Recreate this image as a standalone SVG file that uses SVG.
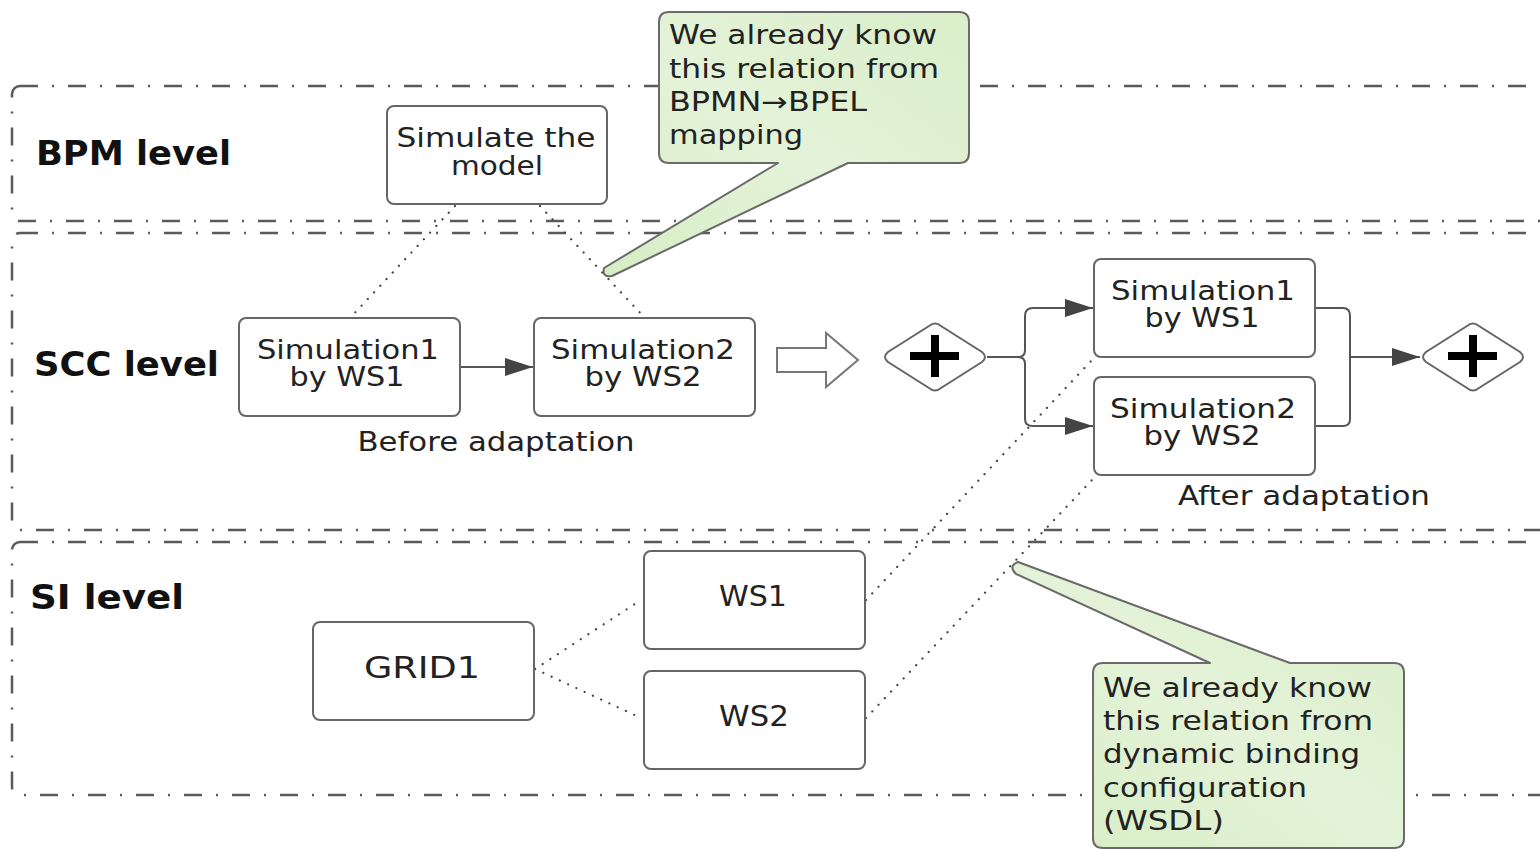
<svg xmlns="http://www.w3.org/2000/svg" width="1540" height="850" viewBox="0 0 1540 850">
  <style>
    .lane { fill: none; stroke: #5a5a5a; stroke-width: 2.5; stroke-dasharray: 18 14 2 14; }
    .box { fill: #fff; stroke: #666; stroke-width: 2; }
    .lbl { font-family: "DejaVu Sans", Verdana, sans-serif; font-size: 26px; fill: #222; text-anchor: middle; }
    .big { font-size: 28px; }
    .lane-lbl { font-family: "DejaVu Sans", Verdana, sans-serif; font-size: 33px; font-weight: bold; fill: #111; }
    .note-txt { font-family: "DejaVu Sans", Verdana, sans-serif; font-size: 27px; fill: #222; }
    .flow { fill: none; stroke: #555; stroke-width: 2; }
    .assoc { fill: none; stroke: #444; stroke-width: 2.2; stroke-dasharray: 0.1 9; stroke-linecap: round; }
    .gw { fill: #fff; stroke: #666; stroke-width: 2; }
    .plus { stroke: #000; stroke-width: 8; }
    .note { stroke: #6a6a6a; stroke-width: 2; fill: url(#noteFill); stroke-linejoin: round; }
  </style>
  <defs>
    <marker id="head" viewBox="0 0 28 20" refX="28" refY="10" markerWidth="28" markerHeight="20" markerUnits="userSpaceOnUse" orient="auto">
      <path d="M0,1 L28,10 L0,19 Z" fill="#444"/>
    </marker>
    <linearGradient id="noteFill" x1="0" y1="1" x2="1" y2="0">
      <stop offset="0" stop-color="#d6edc4"/>
      <stop offset="0.5" stop-color="#e4f3d8"/>
      <stop offset="1" stop-color="#d9eec9"/>
    </linearGradient>
  </defs>

  <rect width="1540" height="850" fill="#fff"/>

  <!-- swimlanes -->
  <g id="lanes">
    <rect class="lane" x="12" y="86" width="1560" height="135" rx="8"/>
    <rect class="lane" x="12" y="233" width="1560" height="297" rx="8"/>
    <rect class="lane" x="12" y="542" width="1560" height="253" rx="8"/>
    <text class="lane-lbl" x="36" y="165" textLength="195" lengthAdjust="spacingAndGlyphs">BPM level</text>
    <text class="lane-lbl" x="34" y="376" textLength="185" lengthAdjust="spacingAndGlyphs">SCC level</text>
    <text class="lane-lbl" x="30" y="609" textLength="154" lengthAdjust="spacingAndGlyphs">SI level</text>
  </g>

  <!-- connectors -->
  <g id="connectors">
    <!-- sequence flows -->
    <line class="flow" x1="460" y1="367" x2="533" y2="367" marker-end="url(#head)"/>
    <path class="flow" d="M987,357 H1018 Q1025,357 1025,350 V316 Q1025,308 1033,308 H1093" marker-end="url(#head)"/>
    <path class="flow" d="M1018,357 Q1025,357 1025,364 V419 Q1025,426 1033,426 H1093" marker-end="url(#head)"/>
    <path class="flow" d="M1315,308 H1343 Q1350,308 1350,316 V419 Q1350,426 1343,426 H1315"/>
    <line class="flow" x1="1350" y1="357" x2="1420" y2="357" marker-end="url(#head)"/>
    <!-- associations -->
    <line class="assoc" x1="455" y1="206" x2="350" y2="318"/>
    <line class="assoc" x1="540" y1="206" x2="645" y2="318"/>
    <line class="assoc" x1="535" y1="669" x2="641" y2="600"/>
    <line class="assoc" x1="535" y1="669" x2="641" y2="718"/>
    <line class="assoc" x1="866" y1="600" x2="1092" y2="360"/>
    <line class="assoc" x1="866" y1="718" x2="1092" y2="480"/>
  </g>

  <!-- BPM level -->
  <g id="simulate-model">
    <rect class="box" x="387" y="106" width="220" height="98" rx="7"/>
    <text class="lbl" x="496" y="147" textLength="199" lengthAdjust="spacingAndGlyphs">Simulate the</text>
    <text class="lbl" x="497" y="175" textLength="92" lengthAdjust="spacingAndGlyphs">model</text>
  </g>

  <!-- SCC level, before adaptation -->
  <g id="sim1-before">
    <rect class="box" x="239" y="318" width="221" height="98" rx="7"/>
    <text class="lbl" x="348" y="359" textLength="182" lengthAdjust="spacingAndGlyphs">Simulation1</text>
    <text class="lbl" x="347" y="386" textLength="115" lengthAdjust="spacingAndGlyphs">by WS1</text>
  </g>
  <g id="sim2-before">
    <rect class="box" x="534" y="318" width="221" height="98" rx="7"/>
    <text class="lbl" x="643" y="359" textLength="184" lengthAdjust="spacingAndGlyphs">Simulation2</text>
    <text class="lbl" x="643" y="386" textLength="117" lengthAdjust="spacingAndGlyphs">by WS2</text>
  </g>
  <text class="lbl" x="496" y="451" textLength="277" lengthAdjust="spacingAndGlyphs">Before adaptation</text>

  <!-- transformation arrow -->
  <g id="adapt-arrow">
    <path d="M777,348 H826 V333 L858,360 L826,387 V372 H777 Z" fill="#fff" stroke="#777" stroke-width="2"/>
  </g>

  <!-- SCC level, after adaptation -->
  <g id="fork">
    <path class="gw" d="M929,326 Q935,321 941,326 L982,352 Q988,357 982,362 L941,388 Q935,393 929,388 L888,362 Q882,357 888,352 Z"/>
    <line class="plus" x1="910" y1="356" x2="959" y2="356"/>
    <line class="plus" x1="935" y1="335" x2="935" y2="377"/>
  </g>
  <g id="sim1-after">
    <rect class="box" x="1094" y="259" width="221" height="98" rx="7"/>
    <text class="lbl" x="1203" y="300" textLength="184" lengthAdjust="spacingAndGlyphs">Simulation1</text>
    <text class="lbl" x="1202" y="327" textLength="115" lengthAdjust="spacingAndGlyphs">by WS1</text>
  </g>
  <g id="sim2-after">
    <rect class="box" x="1094" y="377" width="221" height="98" rx="7"/>
    <text class="lbl" x="1203" y="418" textLength="186" lengthAdjust="spacingAndGlyphs">Simulation2</text>
    <text class="lbl" x="1202" y="445" textLength="117" lengthAdjust="spacingAndGlyphs">by WS2</text>
  </g>
  <g id="join">
    <path class="gw" d="M1467,326 Q1473,321 1479,326 L1520,352 Q1526,357 1520,362 L1479,388 Q1473,393 1467,388 L1426,362 Q1420,357 1426,352 Z"/>
    <line class="plus" x1="1448" y1="356" x2="1497" y2="356"/>
    <line class="plus" x1="1473" y1="335" x2="1473" y2="377"/>
  </g>
  <text class="lbl" x="1304" y="505" textLength="252" lengthAdjust="spacingAndGlyphs">After adaptation</text>

  <!-- SI level -->
  <g id="grid1">
    <rect class="box" x="313" y="622" width="221" height="98" rx="7"/>
    <text class="lbl" x="422" y="678" style="font-size:30px" textLength="116" lengthAdjust="spacingAndGlyphs">GRID1</text>
  </g>
  <g id="ws1">
    <rect class="box" x="644" y="551" width="221" height="98" rx="7"/>
    <text class="lbl big" x="753" y="606" textLength="68" lengthAdjust="spacingAndGlyphs">WS1</text>
  </g>
  <g id="ws2">
    <rect class="box" x="644" y="671" width="221" height="98" rx="7"/>
    <text class="lbl big" x="754" y="726" textLength="70" lengthAdjust="spacingAndGlyphs">WS2</text>
  </g>

  <!-- annotations -->
  <g id="note-mapping">
    <path class="note" d="M669,12 H959 Q969,12 969,22 V153 Q969,163 959,163 H848 L612,276 Q602,278 604,268 L778,163 H669 Q659,163 659,153 V22 Q659,12 669,12 Z"/>
    <text class="note-txt" x="669" y="44" textLength="268" lengthAdjust="spacingAndGlyphs">We already know</text>
    <text class="note-txt" x="669" y="78" textLength="270" lengthAdjust="spacingAndGlyphs">this relation from</text>
    <text class="note-txt" x="669" y="111" textLength="198" lengthAdjust="spacingAndGlyphs">BPMN→BPEL</text>
    <text class="note-txt" x="669" y="144" textLength="134" lengthAdjust="spacingAndGlyphs">mapping</text>
  </g>
  <g id="note-binding">
    <path class="note" d="M1103,663 H1210 L1016,574 Q1008,566 1018,562 L1290,663 H1394 Q1404,663 1404,673 V838 Q1404,848 1394,848 H1103 Q1093,848 1093,838 V673 Q1093,663 1103,663 Z"/>
    <text class="note-txt" x="1103" y="697" textLength="269" lengthAdjust="spacingAndGlyphs">We already know</text>
    <text class="note-txt" x="1103" y="730" textLength="270" lengthAdjust="spacingAndGlyphs">this relation from</text>
    <text class="note-txt" x="1103" y="763" textLength="257" lengthAdjust="spacingAndGlyphs">dynamic binding</text>
    <text class="note-txt" x="1103" y="797" textLength="204" lengthAdjust="spacingAndGlyphs">configuration</text>
    <text class="note-txt" x="1103" y="830" textLength="121" lengthAdjust="spacingAndGlyphs">(WSDL)</text>
  </g>
</svg>
